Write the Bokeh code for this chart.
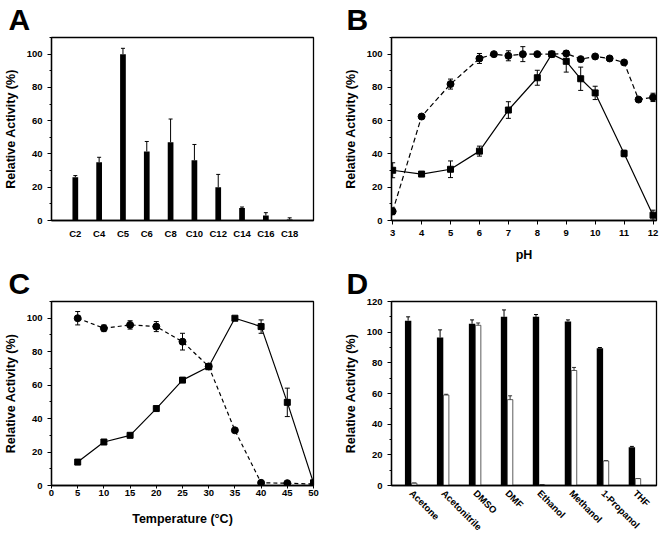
from bokeh.plotting import figure
from bokeh.layouts import gridplot
from bokeh.models import (Range1d, FixedTicker, SingleIntervalTicker, Whisker,
                          TeeHead, ColumnDataSource, Title)
from bokeh.embed import file_html
from bokeh.resources import INLINE
import math

FONT = "Liberation Sans"

# ---------------- Data ----------------
# Panel A: substrate chain length
a_labels = ["C2", "C4", "C5", "C6", "C8", "C10", "C12", "C14", "C16", "C18"]
a_values = [26, 35, 100, 41.5, 47, 36.2, 20, 7.5, 3, 0.6]
a_errors = [1, 3, 3.5, 6, 14, 9.5, 7.7, 0.6, 1.7, 1]

# Panel B: pH (dashed = stability, solid = activity)
b_ph_dash = [3, 4, 5, 6, 6.5, 7, 7.5, 8, 8.5, 9, 9.5, 10, 10.5, 11, 11.5, 12]
b_dash = [5.5, 62.5, 82, 97.4, 100, 99, 100, 100, 100, 100.4, 97, 98.6, 97.4, 95, 72.7, 74]
b_dash_err = [2, 0, 3, 3, 0, 3, 4.5, 0, 0, 1, 0, 0, 0, 0, 0, 2.5]
b_ph_solid = [3, 4, 5, 6, 7, 8, 8.5, 9, 9.5, 10, 11, 12]
b_solid = [30.2, 27.9, 30.8, 41.7, 66.4, 85.8, 100, 95.7, 85.2, 76.7, 40.3, 3.2]
b_solid_err = [4.5, 0, 5, 3, 5, 4.5, 0, 6.5, 7, 4, 2, 3]
b_ticks = [3, 4, 5, 6, 7, 8, 9, 10, 11, 12]

# Panel C: temperature
c_temp = [5, 10, 15, 20, 25, 30, 35, 40, 45, 50]
c_dash = [100, 94, 96, 95, 86, 71.2, 33, 1.6, 1.4, 0.8]
c_dash_err = [4, 2, 2.5, 3, 5, 0, 0, 0, 0, 0]
c_solid = [14, 26, 30, 46, 63, 71, 100, 95, 49.7, 1.6]
c_solid_err = [1.5, 0, 0, 0, 0, 0, 1, 4, 8.5, 1.5]
c_ticks = [0, 5, 10, 15, 20, 25, 30, 35, 40, 45, 50]

# Panel D: organic solvents (black / white bars)
d_labels = ["Acetone", "Acetonitrile", "DMSO", "DMF", "Ethanol", "Methanol", "1-Propanol", "THF"]
d_black = [107.5, 96.5, 105.5, 110, 110, 107, 89.5, 25]
d_black_err = [2.5, 5, 2.5, 4.5, 1.5, 1, 0.5, 0.5]
d_white = [1.5, 59, 104.5, 56, 0.5, 75, 16, 4.5]
d_white_err = [0, 0.5, 1.5, 2.5, 0, 2, 0, 0]


def style(p, xlabel=None, ylabel="Relative Activity (%)"):
    p.outline_line_color = "black"
    p.outline_line_width = 1.3
    p.outline_line_alpha = 1.0
    p.grid.visible = False
    p.background_fill_color = "white"
    p.border_fill_color = "white"
    for ax in (p.xaxis[0], p.yaxis[0]):
        ax.axis_line_color = "black"
        ax.axis_line_width = 1.3
        ax.major_tick_in = 0
        ax.major_tick_out = 4
        ax.minor_tick_in = 0
        ax.minor_tick_out = 2
        ax.major_tick_line_color = "black"
        ax.minor_tick_line_color = "black"
        ax.major_label_text_font = FONT
        ax.major_label_text_font_style = "bold"
        ax.major_label_text_font_size = "9.5px"
        ax.major_label_text_color = "black"
        ax.axis_label_text_font = FONT
        ax.axis_label_text_font_style = "bold"
        ax.axis_label_text_font_size = "12.5px"
        ax.axis_label_text_color = "black"
    p.yaxis[0].major_label_standoff = 5
    p.yaxis[0].axis_label_standoff = 6
    p.yaxis[0].axis_label = ylabel
    if xlabel:
        p.xaxis[0].axis_label = xlabel
    return p


def letter(p, text, offset):
    p.add_layout(Title(text=text, align="left", vertical_align="top", offset=offset,
                       standoff=0, text_font=FONT, text_font_style="bold",
                       text_font_size="30px", text_color="black"), "above")


W1, W2 = 331, 331
H1, H2 = 264, 275

# ---------------- Panel A ----------------
a_x = list(range(1, len(a_labels) + 1))
pA = figure(width=W1, height=H1, x_range=Range1d(0, 11), y_range=Range1d(0, 110),
            output_backend="svg", toolbar_location=None,
            min_border_left=47, min_border_right=18, min_border_top=37, min_border_bottom=42)
style(pA)
pA.yaxis[0].ticker = SingleIntervalTicker(interval=20, num_minor_ticks=2)
pA.xaxis[0].ticker = FixedTicker(ticks=a_x)
pA.xaxis[0].major_label_overrides = {x: l for x, l in zip(a_x, a_labels)}
pA.xaxis[0].major_tick_out = 0
pA.xaxis[0].major_label_standoff = 7
srcA = ColumnDataSource(dict(x=a_x, top=a_values,
                             up=[v + e for v, e in zip(a_values, a_errors)]))
pA.vbar(x="x", top="top", width=0.24, bottom=0, source=srcA,
        fill_color="black", line_color=None)
pA.add_layout(Whisker(base="x", upper="up", lower="top", source=srcA, line_width=1,
                      upper_head=TeeHead(size=4, line_width=1), lower_head=None))
letter(pA, "A", -43)

# ---------------- Panel B ----------------
pB = figure(width=W2, height=H1, x_range=Range1d(2.96, 12.12), y_range=Range1d(0, 110),
            output_backend="svg", toolbar_location=None,
            min_border_left=60, min_border_right=6, min_border_top=37, min_border_bottom=42)
style(pB, xlabel="pH")
pB.yaxis[0].ticker = SingleIntervalTicker(interval=20, num_minor_ticks=2)
pB.xaxis[0].ticker = FixedTicker(ticks=b_ticks)
pB.xaxis[0].major_label_standoff = 5
pB.xaxis[0].axis_label_standoff = 9
srcBd = ColumnDataSource(dict(x=b_ph_dash, y=b_dash,
                              lo=[v - e for v, e in zip(b_dash, b_dash_err)],
                              hi=[v + e for v, e in zip(b_dash, b_dash_err)]))
srcBs = ColumnDataSource(dict(x=b_ph_solid, y=b_solid,
                              lo=[v - e for v, e in zip(b_solid, b_solid_err)],
                              hi=[v + e for v, e in zip(b_solid, b_solid_err)]))
pB.line("x", "y", source=srcBd, line_color="black", line_width=1.2, line_dash="5 3")
pB.line("x", "y", source=srcBs, line_color="black", line_width=1.2)
for s in (srcBd, srcBs):
    pB.add_layout(Whisker(base="x", upper="hi", lower="lo", source=s, line_width=1,
                          upper_head=TeeHead(size=5, line_width=1),
                          lower_head=TeeHead(size=5, line_width=1)))
pB.scatter("x", "y", source=srcBd, marker="circle", size=7, color="black")
pB.scatter("x", "y", source=srcBs, marker="square", size=6, color="black")
letter(pB, "B", -45)

# ---------------- Panel C ----------------
pC = figure(width=W1, height=H2, x_range=Range1d(0, 50), y_range=Range1d(0, 110),
            output_backend="svg", toolbar_location=None,
            min_border_left=47, min_border_right=18, min_border_top=37, min_border_bottom=53)
style(pC, xlabel="Temperature (°C)")
pC.yaxis[0].ticker = SingleIntervalTicker(interval=20, num_minor_ticks=2)
pC.xaxis[0].ticker = FixedTicker(ticks=c_ticks)
pC.xaxis[0].major_tick_out = 3
pC.xaxis[0].major_label_standoff = 1
pC.xaxis[0].axis_label_standoff = 13
srcCd = ColumnDataSource(dict(x=c_temp, y=c_dash,
                              lo=[v - e for v, e in zip(c_dash, c_dash_err)],
                              hi=[v + e for v, e in zip(c_dash, c_dash_err)]))
srcCs = ColumnDataSource(dict(x=c_temp, y=c_solid,
                              lo=[v - e for v, e in zip(c_solid, c_solid_err)],
                              hi=[v + e for v, e in zip(c_solid, c_solid_err)]))
pC.line("x", "y", source=srcCd, line_color="black", line_width=1.2, line_dash="4 3")
pC.line("x", "y", source=srcCs, line_color="black", line_width=1.2)
for s in (srcCd, srcCs):
    pC.add_layout(Whisker(base="x", upper="hi", lower="lo", source=s, line_width=1,
                          upper_head=TeeHead(size=5, line_width=1),
                          lower_head=TeeHead(size=5, line_width=1)))
pC.scatter("x", "y", source=srcCd, marker="circle", size=7, color="black")
pC.scatter("x", "y", source=srcCs, marker="square", size=6, color="black")
letter(pC, "C", -43)

# ---------------- Panel D ----------------
d_x = list(range(1, len(d_labels) + 1))
pD = figure(width=W2, height=H2, x_range=Range1d(0.38, 8.67), y_range=Range1d(0, 120),
            output_backend="svg", toolbar_location=None,
            min_border_left=60, min_border_right=6, min_border_top=37, min_border_bottom=53)
style(pD)
pD.yaxis[0].ticker = SingleIntervalTicker(interval=20, num_minor_ticks=2)
pD.xaxis[0].ticker = FixedTicker(ticks=d_x)
pD.xaxis[0].major_label_overrides = {x: l for x, l in zip(d_x, d_labels)}
pD.xaxis[0].major_tick_out = 0
pD.xaxis[0].major_label_standoff = 6
pD.xaxis[0].major_label_orientation = -math.pi / 4
srcDb = ColumnDataSource(dict(x=[x - 0.1 for x in d_x], top=d_black,
                              up=[v + e for v, e in zip(d_black, d_black_err)]))
srcDw = ColumnDataSource(dict(x=[x + 0.09 for x in d_x], top=d_white,
                              lo=[v - e for v, e in zip(d_white, d_white_err)],
                              up=[v + e for v, e in zip(d_white, d_white_err)]))
pD.vbar(x="x", top="top", width=0.2, bottom=0, source=srcDb,
        fill_color="black", line_color=None)
pD.vbar(x="x", top="top", width=0.17, bottom=0, source=srcDw,
        fill_color="white", line_color="#333333", line_width=0.8)
pD.add_layout(Whisker(base="x", upper="up", lower="top", source=srcDb, line_width=1,
                      upper_head=TeeHead(size=4, line_width=1), lower_head=None))
pD.add_layout(Whisker(base="x", upper="up", lower="lo", source=srcDw, line_width=0.8,
                      upper_head=TeeHead(size=4, line_width=0.8),
                      lower_head=TeeHead(size=4, line_width=0.8)))
letter(pD, "D", -45)

grid = gridplot([[pA, pB], [pC, pD]], toolbar_location=None)

open("out.html", "w").write(file_html(grid, INLINE))
